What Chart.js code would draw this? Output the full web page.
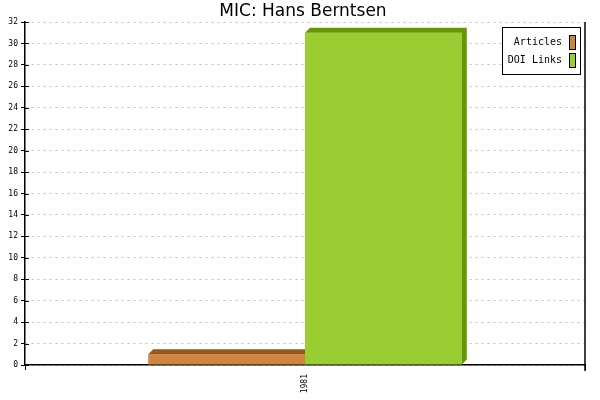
<!DOCTYPE html>
<html>
<head>
<meta charset="utf-8">
<script src="https://cdn.jsdelivr.net/npm/chart.js@4"></script>
<style>
  html, body { margin: 0; padding: 0; background: #fff; }
  #wrap { width: 600px; height: 400px; }
</style>
</head>
<body>
<div id="wrap"><canvas id="chart"></canvas></div>
<script>
var chartTitle = 'MIC: Hans Berntsen';
var years = ['1981'];
var articles = [1];
var doiLinks = [31];
var yTicks = [0, 2, 4, 6, 8, 10, 12, 14, 16, 18, 20, 22, 24, 26, 28, 30, 32];

var depth = 5;

// fake 3d: top face + right side, drawn right after each dataset
var bar3d = {
    id: 'bar3d',
    afterDatasetDraw: function (chart, args) {
        var ctx = chart.ctx;
        var ds = chart.data.datasets[args.index];
        var hasNext = args.index < chart.data.datasets.length - 1;
        args.meta.data.forEach(function (bar) {
            var p = bar.getProps(['x', 'y', 'base', 'width'], true);
            var l = p.x - p.width / 2, r = p.x + p.width / 2;
            ctx.save();
            if (hasNext) {
                // the next bar sits in front of our right side
                ctx.beginPath();
                ctx.rect(0, 0, r, chart.height);
                ctx.clip();
            }
            ctx.fillStyle = ds.darkColor;
            ctx.beginPath();
            ctx.moveTo(l, p.y);
            ctx.lineTo(l + depth, p.y - depth);
            ctx.lineTo(r + depth, p.y - depth);
            ctx.lineTo(r + depth, p.base - depth);
            ctx.lineTo(r, p.base);
            ctx.lineTo(r, p.y);
            ctx.closePath();
            ctx.fill();
            ctx.restore();
        });
    },
    afterDraw: function (chart) {
        var ctx = chart.ctx, a = chart.chartArea;
        ctx.save();
        // title, centred a bit right of the plot centre like the original
        ctx.fillStyle = '#000';
        ctx.font = '17px "DejaVu Sans"';
        ctx.textAlign = 'center';
        ctx.textBaseline = 'alphabetic';
        ctx.fillText(chartTitle, 303, 16);
        // right frame line
        ctx.strokeStyle = '#000';
        ctx.lineWidth = 1.5;
        ctx.beginPath();
        ctx.moveTo(a.right, a.top);
        ctx.lineTo(a.right, a.bottom + 6);
        ctx.stroke();
        // y tick marks poke into the plot
        var ys = chart.scales.y;
        ctx.lineWidth = 1;
        ys.ticks.forEach(function (t) {
            var py = Math.round(ys.getPixelForValue(t.value)) + 0.5;
            ctx.beginPath();
            ctx.moveTo(a.left, py);
            ctx.lineTo(a.left + 4, py);
            ctx.stroke();
        });
        // legend box
        var bx = 502, by = 27, bw = 78, bh = 47;
        ctx.fillStyle = '#fff';
        ctx.fillRect(bx, by, bw, bh);
        ctx.strokeStyle = '#000';
        ctx.strokeRect(bx + 0.5, by + 0.5, bw, bh);
        ctx.font = '10px "DejaVu Sans Mono"';
        ctx.textAlign = 'right';
        ctx.textBaseline = 'middle';
        chart.data.datasets.forEach(function (ds, i) {
            var cy = by + 15 + i * 18;
            ctx.fillStyle = '#000';
            ctx.fillText(ds.label, bx + 60, cy);
            ctx.fillStyle = ds.backgroundColor;
            ctx.fillRect(bx + 67, cy - 7, 6, 14);
            ctx.strokeRect(bx + 67.5, cy - 6.5, 6, 14);
        });
        ctx.restore();
    }
};

new Chart(document.getElementById('chart').getContext('2d'), {
    type: 'bar',
    data: {
        labels: years,
        datasets: [{
            label: 'Articles',
            data: articles,
            backgroundColor: '#cd853f',
            darkColor: '#985818'
        }, {
            label: 'DOI Links',
            data: doiLinks,
            backgroundColor: '#9acd32',
            darkColor: '#669900'
        }]
    },
    options: {
        responsive: true,
        maintainAspectRatio: false,
        animation: false,
        devicePixelRatio: 1,
        layout: { padding: { top: 22, right: 15, left: 0, bottom: 0 } },
        datasets: {
            bar: { categoryPercentage: 0.56, barPercentage: 1.0 }
        },
        plugins: {
            legend: { display: false },
            tooltip: { enabled: false },
            title: { display: false }
        },
        scales: {
            x: {
                offset: true,
                grid: { display: true, drawOnChartArea: false, offset: true, color: '#000', tickLength: 5 },
                border: { color: '#000', width: 1.5 },
                ticks: {
                    color: '#000',
                    font: { family: 'DejaVu Sans Mono', size: 8 },
                    minRotation: 90, maxRotation: 90,
                    padding: 4
                },
                afterFit: function (s) { s.height = 35; }
            },
            y: {
                min: 0,
                max: 32,
                afterBuildTicks: function (s) {
                    s.ticks = yTicks.map(function (v) { return { value: v }; });
                },
                grid: { color: '#c0c0c0', tickColor: '#000', tickLength: 4 },
                border: { color: '#000', width: 1.5, dash: [2, 4] },
                ticks: {
                    color: '#000',
                    font: { family: 'DejaVu Sans Mono', size: 8 },
                    padding: 3
                },
                afterFit: function (s) { s.width = 25; }
            }
        }
    },
    plugins: [bar3d]
});
</script>
</body>
</html>
